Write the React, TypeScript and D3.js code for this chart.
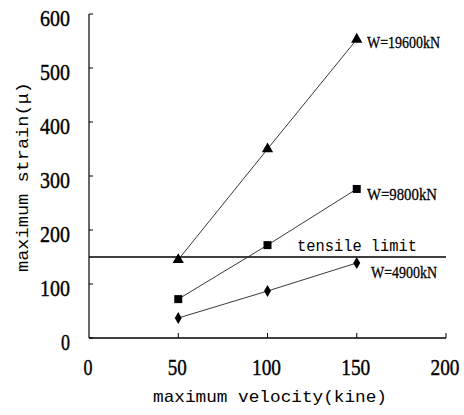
import React from 'react';
import * as d3 from 'd3';

// velocities on x axis
const velocities = [50, 100, 150];
// strain values per load
const strain19600 = [145, 350, 553];
const strain9800 = [72, 172, 276];
const strain4900 = [37, 87, 139];
const seriesLabels = ['W=19600kN', 'W=9800kN', 'W=4900kN'];
const tensileLimit = 150;
const xTicks = [0, 50, 100, 150, 200];
const yTicks = [0, 100, 200, 300, 400, 500, 600];

const W = 464;
const H = 415;

const App = () => {
  const x = d3.scaleLinear().domain([0, 200]).range([89, 446]);
  const y = d3.scaleLinear().domain([0, 600]).range([338, 14]);

  const line = d3
    .line<number>()
    .x((d, i) => x(velocities[i]))
    .y(d => y(d));

  const triangle = d3.symbol().type(d3.symbolTriangle).size(55)();
  const square = d3.symbol().type(d3.symbolSquare).size(64)();
  const diamond = d3.symbol().type(d3.symbolDiamond).size(42)();

  const series = [
    { values: strain19600, shape: triangle, label: seriesLabels[0] },
    { values: strain9800, shape: square, label: seriesLabels[1] },
    { values: strain4900, shape: diamond, label: seriesLabels[2] },
  ];

  const numFont = '"Liberation Serif", serif';
  const monoFont = '"Liberation Mono", monospace';

  // label positions next to the last point of each series
  const labelPos = [
    { x: 367, y: 48, len: 73 },
    { x: 367, y: 200, len: 70 },
    { x: 371, y: 278, len: 66 },
  ];

  return (
    <svg
      width={W}
      height={H}
      style={{ position: 'absolute', left: 0, top: 0, background: '#fff' }}
    >
      {/* axes */}
      <line x1={x(0)} x2={x(0)} y1={y(600)} y2={y(0)} stroke="#000" strokeWidth={1.2} />
      <line x1={x(0)} x2={x(200)} y1={y(0)} y2={y(0)} stroke="#000" strokeWidth={1.4} />
      {yTicks.map(t => (
        <g key={'y' + t}>
          <line x1={x(0)} x2={x(0) + 4} y1={y(t)} y2={y(t)} stroke="#000" />
          <text
            x={70}
            y={y(t) + 12}
            textAnchor="end"
            fontFamily={numFont}
            fontSize={23}
            stroke="#000"
            strokeWidth={0.4}
            textLength={t === 0 ? 9 : 30}
            lengthAdjust="spacingAndGlyphs"
          >
            {t}
          </text>
        </g>
      ))}
      {xTicks.map(t => (
        <g key={'x' + t}>
          {t > 0 && (
            <line x1={x(t)} x2={x(t)} y1={y(0)} y2={y(0) - 5} stroke="#000" />
          )}
          <text
            x={x(t) - 1}
            y={375}
            textAnchor="middle"
            fontFamily={numFont}
            fontSize={23}
            stroke="#000"
            strokeWidth={0.4}
            textLength={t === 0 ? 9 : t === 50 ? 19 : 29}
            lengthAdjust="spacingAndGlyphs"
          >
            {t}
          </text>
        </g>
      ))}

      {/* axis titles */}
      <text
        x={270}
        y={402}
        textAnchor="middle"
        fontFamily={monoFont}
        fontSize={17}
        textLength={234}
        lengthAdjust="spacingAndGlyphs"
      >
        maximum velocity(kine)
      </text>
      <text
        transform={`translate(28,177) rotate(-90)`}
        textAnchor="middle"
        fontFamily={monoFont}
        fontSize={17}
        textLength={190}
        lengthAdjust="spacingAndGlyphs"
      >
        maximum strain(μ)
      </text>

      {/* tensile limit */}
      <line
        x1={x(0)}
        x2={x(200)}
        y1={y(tensileLimit)}
        y2={y(tensileLimit)}
        stroke="#000"
        strokeWidth={1.3}
      />
      <text
        x={297}
        y={251}
        fontFamily={monoFont}
        fontSize={17}
        textLength={120}
        lengthAdjust="spacingAndGlyphs"
      >
        tensile limit
      </text>

      {/* series */}
      {series.map((s, si) => (
        <g key={si}>
          <path d={line(s.values) || ''} fill="none" stroke="#222" strokeWidth={0.9} />
          {s.values.map((v, i) => (
            <path
              key={i}
              d={s.shape || ''}
              transform={`translate(${x(velocities[i])},${y(v)})`}
              fill="#000"
            />
          ))}
        </g>
      ))}

      {/* series labels */}
      {series.map((s, si) => (
        <text
          key={'l' + si}
          x={labelPos[si].x}
          y={labelPos[si].y}
          fontFamily={numFont}
          fontSize={17}
          stroke="#000"
          strokeWidth={0.3}
          textLength={labelPos[si].len}
          lengthAdjust="spacingAndGlyphs"
        >
          {s.label}
        </text>
      ))}
    </svg>
  );
};

export default App;
